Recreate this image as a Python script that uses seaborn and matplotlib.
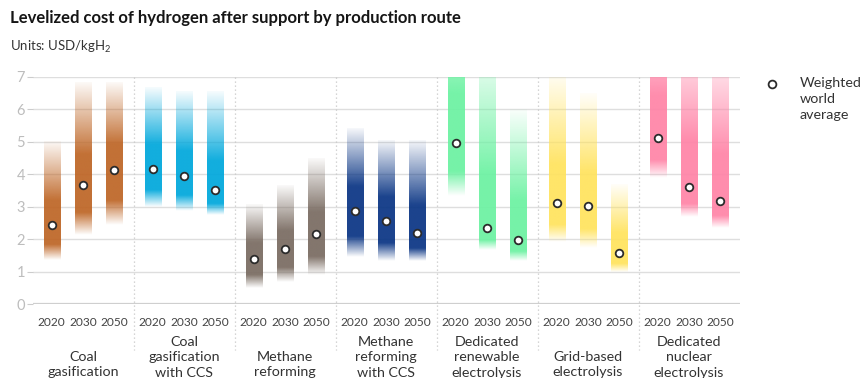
import numpy as np
import pandas as pd
import matplotlib
matplotlib.use("Agg")
import matplotlib.pyplot as plt
import seaborn as sns
from matplotlib.colors import to_rgb

# ---- data (USD/kgH2) ----
routes = [
    "Coal\ngasification",
    "Coal\ngasification\nwith CCS",
    "Methane\nreforming",
    "Methane\nreforming\nwith CCS",
    "Dedicated\nrenewable\nelectrolysis",
    "Grid-based\nelectrolysis",
    "Dedicated\nnuclear\nelectrolysis",
]
years = ["2020", "2030", "2050"]

coal_low = [1.37, 2.14, 2.45]
coal_avg = [2.43, 3.68, 4.13]
coal_high = [5.02, 6.85, 6.85]

coal_ccs_low = [3.01, 2.86, 2.76]
coal_ccs_avg = [4.18, 3.94, 3.53]
coal_ccs_high = [6.70, 6.55, 6.55]

methane_low = [0.49, 0.70, 0.90]
methane_avg = [1.39, 1.70, 2.16]
methane_high = [3.06, 3.68, 4.50]

methane_ccs_low = [1.47, 1.32, 1.32]
methane_ccs_avg = [2.88, 2.55, 2.19]
methane_ccs_high = [5.43, 5.02, 5.02]

renewable_low = [3.32, 1.68, 1.32]
renewable_avg = [4.97, 2.35, 1.99]
renewable_high = [10.0, 8.0, 6.00]

grid_low = [1.93, 1.73, 1.00]
grid_avg = [3.12, 3.03, 1.57]
grid_high = [7.20, 6.50, 3.68]

nuclear_low = [3.89, 2.70, 2.35]
nuclear_avg = [5.13, 3.60, 3.19]
nuclear_high = [9.50, 8.50, 8.00]

route_colors = ["#BE6626", "#00A8DC", "#7A6C62", "#0A3584",
                "#6CF2A2", "#FFE35E", "#FF84A7"]

lows = [coal_low, coal_ccs_low, methane_low, methane_ccs_low,
        renewable_low, grid_low, nuclear_low]
avgs = [coal_avg, coal_ccs_avg, methane_avg, methane_ccs_avg,
        renewable_avg, grid_avg, nuclear_avg]
highs = [coal_high, coal_ccs_high, methane_high, methane_ccs_high,
         renewable_high, grid_high, nuclear_high]

year_offsets = [-0.31, 0.0, 0.31]
bar_width = 0.16

rows = []
for gi, route in enumerate(routes):
    for yi, yr in enumerate(years):
        rows.append(dict(route=route, year=yr, group=gi,
                         pos=gi + year_offsets[yi],
                         low=lows[gi][yi], avg=avgs[gi][yi], high=highs[gi][yi],
                         color=route_colors[gi]))
df = pd.DataFrame(rows)

# ---- style ----
sns.set_theme(style="white")
plt.rcParams["font.family"] = ["Lato", "DejaVu Sans"]
plt.rcParams["mathtext.fontset"] = "custom"
plt.rcParams["mathtext.rm"] = "Lato"
plt.rcParams["mathtext.it"] = "Lato:italic"

W, H = 864, 378
fig = plt.figure(figsize=(W / 100, H / 100), dpi=100)
ax = fig.add_axes([32.5 / W, 73.7 / H, 707 / W, 227.3 / H])


def fade_profile(v, low, avg, high):
    """Opacity along a bar: ramps in from the low end, solid around the
    average, then a long fade toward the high end."""
    lo_solid = low + 0.45 * (avg - low)
    hi_solid = avg + 0.3 * (high - avg)
    a = np.ones_like(v)
    a = np.where(v < lo_solid, (v - low) / (lo_solid - low), a)
    a = np.where(v > hi_solid, 1 - 0.96 * (v - hi_solid) / (high - hi_solid), a)
    return np.clip(a, 0, 1) * 0.93


# gradient range bars
for _, r in df.iterrows():
    v = np.linspace(r.low, r.high, 400)
    rgba = np.zeros((len(v), 1, 4))
    rgba[..., :3] = to_rgb(r.color)
    rgba[:, 0, 3] = fade_profile(v, r.low, r.avg, r.high)
    ax.imshow(rgba, extent=[r.pos - bar_width / 2, r.pos + bar_width / 2, r.low, r.high],
              origin="lower", aspect="auto", interpolation="bilinear", zorder=1)

# weighted world average markers
sns.scatterplot(data=df, x="pos", y="avg", ax=ax, color="white",
                edgecolor="#2b2b2b", linewidth=1.3, s=30, zorder=5, legend=False)

ax.set_xlim(-0.5, len(routes) - 0.5)
ax.set_ylim(0, 7)
ax.set_xlabel("")
ax.set_ylabel("")

# grid and axes styling
ax.set_axisbelow(True)
ax.yaxis.grid(True, color="#dedede", lw=1.0)
ax.xaxis.grid(False)
ax.axhline(0, color="#cfcfcf", lw=1.6, zorder=0.6)
for s in ax.spines.values():
    s.set_visible(False)

ax.set_yticks(range(0, 8))
ax.tick_params(axis="y", length=4, width=0.8, color="#cccccc", pad=1.5,
               labelsize=10.5, labelcolor="#bdbdbd", left=True)
ax.set_xticks(df["pos"])
ax.set_xticklabels(df["year"])
ax.tick_params(axis="x", length=0, pad=9, labelsize=8.6, labelcolor="#444444")

# dotted separators between routes
for b in range(1, len(routes)):
    ax.plot([b - 0.5, b - 0.5], [1.0, -0.2], transform=ax.get_xaxis_transform(),
            color="#c8c8c8", lw=0.9, ls=(0, (1, 2.2)), clip_on=False, zorder=0.7)

# route names, bottom-aligned
line_h = 10.8  # points
for gi, route in enumerate(routes):
    n = route.count("\n") + 1
    ax.annotate(route, xy=(gi, 0), xycoords=("data", "axes fraction"),
                xytext=(0, -23 - (3 - n) * line_h), textcoords="offset points",
                ha="center", va="top", fontsize=10.3, color="#333333",
                linespacing=1.32, annotation_clip=False)

# titles
fig.text(10 / W, 1 - 18 / H, "Levelized cost of hydrogen after support by production route",
         fontsize=12, fontweight="bold", color="#151515", va="center", ha="left")
fig.text(10 / W, 1 - 47 / H, "Units: USD/kgH$_2$", fontsize=9.5, color="#333333",
         va="center", ha="left")

# legend
fig.lines.append(plt.Line2D([772 / W], [1 - 84 / H], transform=fig.transFigure,
                            marker="o", markersize=5.6, markerfacecolor="white",
                            markeredgecolor="#2b2b2b", markeredgewidth=1.3, ls=""))
fig.text(800 / W, 1 - 77 / H, "Weighted\nworld\naverage", fontsize=10.3,
         color="#333333", va="top", ha="left", linespacing=1.38)

fig.savefig("out.png", dpi=100)
